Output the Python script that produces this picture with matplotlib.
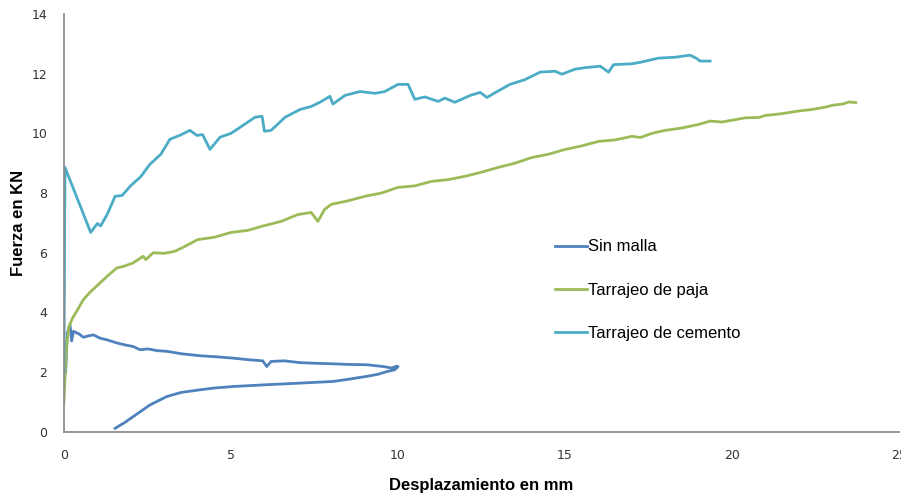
import matplotlib.pyplot as plt

# ---- data ----
sin_malla_x = [0.05, 0.10, 0.18, 0.23, 0.28, 0.45, 0.58, 0.75, 0.88, 1.08, 1.30, 1.58, 1.80, 2.07, 2.28, 2.50,
               2.80, 3.07, 3.50, 4.07, 4.50, 5.07, 5.50, 5.95, 6.07, 6.20, 6.60, 7.06, 7.50, 8.06, 8.50, 9.06,
               9.30, 9.56, 9.80, 9.96, 10.00, 9.90, 9.66, 9.40, 9.06, 8.50, 8.06, 7.00, 6.07, 5.06, 4.50, 4.07,
               3.50, 3.07, 2.57, 2.07, 1.80, 1.53]
sin_malla_y = [2.00, 3.30, 3.59, 3.05, 3.37, 3.28, 3.17, 3.22, 3.25, 3.14, 3.08, 2.98, 2.92, 2.86, 2.75, 2.78,
               2.72, 2.70, 2.62, 2.55, 2.52, 2.47, 2.42, 2.38, 2.19, 2.36, 2.38, 2.32, 2.30, 2.28, 2.26, 2.25,
               2.22, 2.19, 2.14, 2.20, 2.19, 2.08, 2.02, 1.93, 1.86, 1.76, 1.69, 1.63, 1.58, 1.52, 1.47, 1.41,
               1.32, 1.18, 0.90, 0.51, 0.30, 0.12]

paja_x = [0.00, 0.03, 0.08, 0.15, 0.25, 0.38, 0.58, 0.80, 1.08, 1.30, 1.58, 1.80, 2.07, 2.37, 2.45, 2.67,
          3.00, 3.32, 3.60, 4.00, 4.50, 5.00, 5.50, 6.00, 6.50, 7.00, 7.40, 7.60, 7.80, 8.00, 8.50, 9.00,
          9.50, 10.00, 10.50, 11.00, 11.50, 12.00, 12.50, 13.00, 13.50, 14.00, 14.50, 15.00, 15.50, 16.00,
          16.50, 17.00, 17.25, 17.60, 18.00, 18.50, 19.00, 19.34, 19.70, 20.00, 20.40, 20.80, 21.00, 21.50,
          22.00, 22.40, 22.80, 23.00, 23.30, 23.50, 23.70]
paja_y = [1.00, 1.80, 2.90, 3.52, 3.80, 4.04, 4.43, 4.70, 4.99, 5.22, 5.49, 5.55, 5.66, 5.88, 5.77, 6.00,
          5.98, 6.05, 6.20, 6.44, 6.52, 6.68, 6.75, 6.91, 7.05, 7.28, 7.35, 7.05, 7.45, 7.62, 7.74, 7.89,
          8.00, 8.19, 8.24, 8.39, 8.45, 8.56, 8.70, 8.86, 9.00, 9.19, 9.30, 9.46, 9.58, 9.73, 9.78, 9.90,
          9.86, 10.00, 10.10, 10.18, 10.30, 10.41, 10.38, 10.44, 10.52, 10.53, 10.60, 10.66, 10.75, 10.80,
          10.88, 10.94, 10.98, 11.05, 11.03]

cemento_x = [0.00, 0.03, 0.80, 1.00, 1.10, 1.30, 1.53, 1.74, 2.00, 2.30, 2.57, 2.90, 3.17, 3.50, 3.77, 3.98,
             4.15, 4.37, 4.67, 5.00, 5.27, 5.72, 5.93, 6.00, 6.20, 6.62, 7.07, 7.40, 7.66, 7.96, 8.05, 8.41,
             8.86, 9.31, 9.60, 10.00, 10.30, 10.50, 10.80, 11.20, 11.40, 11.70, 12.16, 12.46, 12.66, 12.90,
             13.35, 13.80, 14.25, 14.70, 14.90, 15.30, 15.60, 16.05, 16.30, 16.45, 17.00, 17.25, 17.80, 18.30,
             18.74, 18.95, 19.04, 19.34]
cemento_y = [2.00, 8.86, 6.68, 6.98, 6.90, 7.30, 7.89, 7.92, 8.25, 8.55, 8.96, 9.30, 9.80, 9.95, 10.10, 9.93,
             9.96, 9.46, 9.87, 10.00, 10.20, 10.54, 10.57, 10.07, 10.10, 10.54, 10.80, 10.90, 11.04, 11.24,
             10.98, 11.27, 11.40, 11.34, 11.40, 11.64, 11.64, 11.14, 11.22, 11.07, 11.18, 11.04, 11.27, 11.37,
             11.20, 11.36, 11.64, 11.80, 12.05, 12.08, 11.98, 12.15, 12.20, 12.25, 12.05, 12.30, 12.33, 12.38,
             12.52, 12.55, 12.62, 12.50, 12.42, 12.42]

x_ticks = [0, 5, 10, 15, 20, 25]
y_ticks = [0, 2, 4, 6, 8, 10, 12, 14]

fig = plt.figure(figsize=(9.01, 4.97), dpi=100)
ax = fig.add_axes([0.071, 0.131, 0.927, 0.841])

ax.plot(sin_malla_x, sin_malla_y, color="#4F81BD", lw=2.0, label="Sin malla")
ax.plot(paja_x, paja_y, color="#9BBB59", lw=2.0, label="Tarrajeo de paja")
ax.plot(cemento_x, cemento_y, color="#4BACC6", lw=2.0, label="Tarrajeo de cemento")

ax.set_xlim(0, 25)
ax.set_ylim(0, 14)
ax.set_xticks(x_ticks)
ax.set_yticks(y_ticks)
ax.tick_params(length=0, labelsize=9, colors="#333333")
ax.tick_params(axis="x", pad=12)
ax.tick_params(axis="y", pad=12)

for side in ["top", "right"]:
    ax.spines[side].set_visible(False)
for side in ["left", "bottom"]:
    ax.spines[side].set_color("#8C8C8C")
    ax.spines[side].set_linewidth(1.3)

ax.set_xlabel("Desplazamiento en mm", fontsize=12, fontweight="bold", family="Liberation Sans", labelpad=12)
ax.set_ylabel("Fuerza en KN", fontsize=12, fontweight="bold", family="Liberation Sans", labelpad=4)

ax.legend(loc="upper left", bbox_to_anchor=(0.570, 0.4965), frameon=False, handlelength=1.9,
          handletextpad=0.1, labelspacing=1.7, prop={"family": "Liberation Sans", "size": 12})

fig.savefig("out.png", dpi=100)
